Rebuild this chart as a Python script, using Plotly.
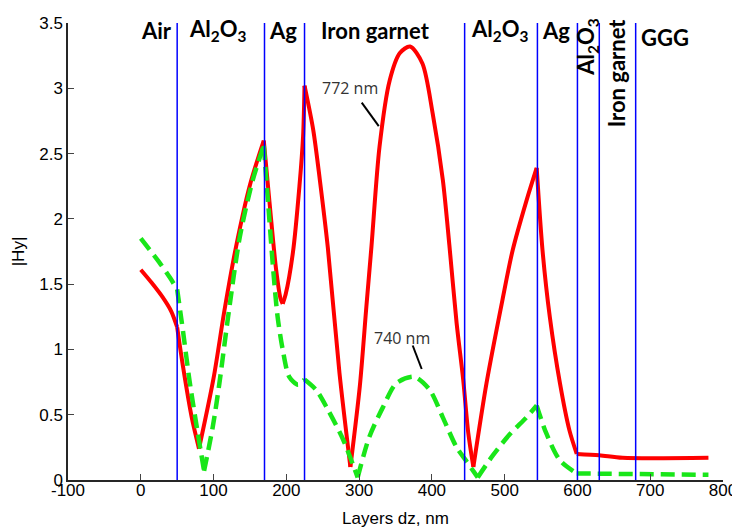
import plotly.graph_objects as go

# ---- data ----
x_772 = [0, 15, 30, 42, 50, 58, 70, 80, 100, 115, 131, 150, 169, 177, 186, 192, 195, 199, 209, 218, 223, 225,
         237, 246, 257, 273, 288, 301, 310, 317, 328, 342, 356, 370, 387, 401, 415, 424, 434, 443, 450, 457,
         475, 497, 511, 530, 544, 552, 562, 576, 589, 599, 630, 662, 780]
y_772 = [1.61, 1.51, 1.40, 1.29, 1.17, 0.87, 0.48, 0.24, 0.78, 1.30, 1.79, 2.26, 2.60, 2.12, 1.61, 1.39, 1.35, 1.42, 1.74, 2.25, 2.63, 3.02,
         2.68, 2.30, 1.78, 0.82, 0.10, 0.72, 1.33, 1.79, 2.55, 3.06, 3.27, 3.32, 3.19, 2.81, 2.30, 1.80, 1.20, 0.77, 0.36, 0.10,
         0.74, 1.38, 1.76, 2.14, 2.39, 1.76, 1.25, 0.74, 0.38, 0.20, 0.19, 0.17, 0.17]

x_740 = [0, 25, 40, 50, 58, 67, 78, 87, 99, 108, 120, 136, 154, 169, 175, 182, 188, 195, 204, 216, 225,
         241, 257, 278, 298, 314, 333, 351, 376, 397, 415, 434, 448, 463, 484, 507, 530, 544, 557, 576, 599, 780]
y_740 = [1.85, 1.67, 1.55, 1.46, 1.14, 0.76, 0.37, 0.07, 0.41, 0.74, 1.25, 1.86, 2.30, 2.56, 2.12, 1.61, 1.25, 1.00, 0.79, 0.73, 0.77,
         0.69, 0.54, 0.31, 0.02, 0.33, 0.56, 0.74, 0.79, 0.69, 0.48, 0.25, 0.14, 0.02, 0.19, 0.35, 0.48, 0.57, 0.36, 0.15, 0.05, 0.04]

# x positions where each curve has a sharp kink (curve is smoothed between them)
kinks_772 = [50, 80, 169, 195, 225, 288, 457, 544, 599]
kinks_740 = [50, 87, 169, 225, 298, 463, 544, 599]

boundaries = [50, 170, 225, 445, 545, 600, 630, 680]

layer_names = ["Air", "Al<sub>2</sub>O<sub>3</sub>", "Ag", "Iron garnet", "Al<sub>2</sub>O<sub>3</sub>", "Ag",
               "Al<sub>2</sub>O<sub>3</sub>", "Iron garnet", "GGG"]
layer_x = [21, 106, 196, 323, 493, 570, 614, 654, 720]
layer_y = [3.445, 3.445, 3.445, 3.445, 3.445, 3.445, 3.315, 3.12, 3.39]
layer_angle = [0, 0, 0, 0, 0, 0, -90, -90, 0]

wl_labels = ["772 nm", "740 nm"]
wl_text_xy = [(287, 3.0), (358.5, 1.087)]
wl_leader = [((303.6, 2.89), (327, 2.71)), ((373.6, 1.03), (386, 0.85))]

x_ticks = list(range(-100, 801, 100))
x_ticktext = [str(v) for v in x_ticks]
y_ticks = [0, 0.5, 1, 1.5, 2, 2.5, 3, 3.5]
y_ticktext = ["0", "0.5", "1", "1.5", "2", "2.5", "3", "3.5"]


def segments(xs, ys, kinks):
    segs, cur_x, cur_y = [], [], []
    for xv, yv in zip(xs, ys):
        cur_x.append(xv)
        cur_y.append(yv)
        if xv in kinks:
            segs.append((cur_x, cur_y))
            cur_x, cur_y = [xv], [yv]
    if len(cur_x) > 1:
        segs.append((cur_x, cur_y))
    return segs


# ---- figure ----
fig = go.Figure()
for sx, sy in segments(x_772, y_772, kinks_772):
    fig.add_trace(go.Scatter(x=sx, y=sy, mode="lines",
                             line=dict(color="#ff0000", width=4, shape="spline", smoothing=0.8),
                             showlegend=False))
for sx, sy in segments(x_740, y_740, kinks_740):
    fig.add_trace(go.Scatter(x=sx, y=sy, mode="lines",
                             line=dict(color="#19e619", width=4.5, dash="14px,7px", shape="spline", smoothing=0.8),
                             showlegend=False))

for b in boundaries:
    fig.add_shape(type="line", xref="x", yref="y", x0=b, x1=b, y0=0, y1=3.5,
                  line=dict(color="#0000ff", width=1.5), layer="above")

for (p0, p1) in wl_leader:
    fig.add_shape(type="line", xref="x", yref="y", x0=p0[0], y0=p0[1], x1=p1[0], y1=p1[1],
                  line=dict(color="#000000", width=2))

for name, lx, ly, ang in zip(layer_names, layer_x, layer_y, layer_angle):
    fig.add_annotation(x=lx, y=ly, xref="x", yref="y", text="<b>" + name + "</b>", showarrow=False,
                       textangle=ang, font=dict(family="Lato", size=22, color="#000000"),
                       xanchor="center", yanchor="middle")

for t, (tx, ty) in zip(wl_labels, wl_text_xy):
    fig.add_annotation(x=tx, y=ty, xref="x", yref="y", text=t, showarrow=False,
                       font=dict(family="Open Sans", size=16, color="#333333"),
                       xanchor="center", yanchor="middle")

# the page body adds an 8px offset, so margins are compensated for it
fig.update_layout(
    width=740, height=528,
    margin=dict(l=60, r=25, t=15, b=56),
    plot_bgcolor="white", paper_bgcolor="white",
    font=dict(family="Liberation Sans", size=17, color="#000000"),
)
fig.update_xaxes(range=[-100, 800], tickvals=x_ticks, ticktext=x_ticktext, ticks="inside", ticklen=6,
                 tickcolor="#444444", automargin=False, ticklabelstandoff=-6,
                 showline=True, linecolor="#262626", linewidth=1.5, showgrid=False, zeroline=False,
                 title=dict(text="Layers dz, nm", standoff=13, font=dict(size=17)))
fig.update_yaxes(range=[0, 3.5], tickvals=y_ticks, ticktext=y_ticktext, ticks="inside", ticklen=6,
                 tickcolor="#444444", automargin=False,
                 showline=True, linecolor="#262626", linewidth=1.5, showgrid=False, zeroline=False,
                 title=dict(text="|Hy|", standoff=10, font=dict(size=17)))

fig.write_html("out.html")
